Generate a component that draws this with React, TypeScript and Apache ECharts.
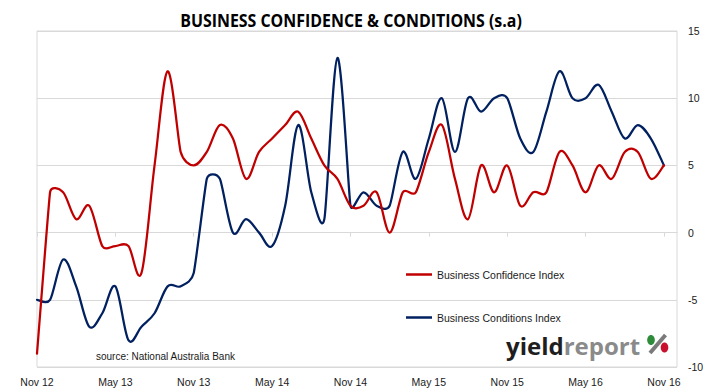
import React, { useEffect, useRef } from "react";
import * as echarts from "echarts";

const months = [
  "Nov 12", "Dec 12", "Jan 13", "Feb 13", "Mar 13", "Apr 13", "May 13", "Jun 13", "Jul 13", "Aug 13", "Sep 13", "Oct 13",
  "Nov 13", "Dec 13", "Jan 14", "Feb 14", "Mar 14", "Apr 14", "May 14", "Jun 14", "Jul 14", "Aug 14", "Sep 14", "Oct 14",
  "Nov 14", "Dec 14", "Jan 15", "Feb 15", "Mar 15", "Apr 15", "May 15", "Jun 15", "Jul 15", "Aug 15", "Sep 15", "Oct 15",
  "Nov 15", "Dec 15", "Jan 16", "Feb 16", "Mar 16", "Apr 16", "May 16", "Jun 16", "Jul 16", "Aug 16", "Sep 16", "Oct 16",
  "Nov 16", "Dec 16",
];

const confidence = [
  -9, 3, 3, 1, 2, -1, -1, -1, -3, 5, 12, 6,
  5, 6, 8, 7, 4, 6, 7, 8, 9, 7, 5, 4,
  2, 2, 3, 0, 3, 3, 6, 8, 4, 1, 5, 3,
  5, 2, 3, 3, 6, 5, 3, 5, 4, 6, 6, 4,
  5,
];

const conditions = [
  -5, -5, -2, -4, -7, -6, -4, -8, -7, -6, -4, -4,
  -3, 4, 4, 0, 1, 0, -1, 2, 8, 3, 1, 13,
  2, 3, 2, 2, 6, 4, 7, 10, 6, 10, 9, 10,
  10, 7, 6, 9, 12, 10, 10, 11, 9, 7, 8, 7,
  5,
];

const seriesNames = ["Business Confidence Index", "Business Conditions Index"];
const titleText = "BUSINESS CONFIDENCE & CONDITIONS (s.a)";
const sourceText = "source: National Australia Bank";

const RED = "#c00000";
const NAVY = "#002060";
const GRID = "#d9d9d9";
const FONT = "'Liberation Sans', Arial, sans-serif";

const dist = (a: number[], b: number[]) => Math.hypot(a[0] - b[0], a[1] - b[1]);

// Spreadsheet-style smoothed curve through the points placed by the axes
function makeRender(values: number[], color: string) {
  return (params: any, api: any) => {
    if (params.dataIndex !== 0) return null;
    const pts: number[][] = values.map((v, i) => api.coord([i, v]));
    const n = pts.length;
    // control offsets at each point
    const cin: number[][] = [];
    const cout: number[][] = [];
    for (let i = 0; i < n; i++) {
      const p0 = pts[i - 1] || pts[i];
      const p1 = pts[i];
      const p2 = pts[i + 1] || pts[i];
      const tx = p2[0] - p0[0];
      const ty = p2[1] - p0[1];
      const tl = Math.hypot(tx, ty) || 1;
      let len = tl / 6;
      const d01 = dist(p0, p1);
      const d12 = dist(p1, p2);
      if (i > 0) len = Math.min(len, d01 / 2);
      if (i < n - 1) len = Math.min(len, d12 / 2);
      const ux = (tx / tl) * len;
      const uy = (ty / tl) * len;
      cin.push([p1[0] - ux, p1[1] - uy]);
      cout.push([p1[0] + ux, p1[1] + uy]);
    }
    let d = `M${pts[0][0]},${pts[0][1]}`;
    for (let i = 0; i < n - 1; i++) {
      const a = cout[i];
      const b = cin[i + 1];
      const p = pts[i + 1];
      d += ` C${a[0]},${a[1]} ${b[0]},${b[1]} ${p[0]},${p[1]}`;
    }
    return {
      type: "path",
      shape: { pathData: d },
      style: { stroke: color, lineWidth: 2.25, fill: "none", lineJoin: "round", lineCap: "round" },
      silent: true,
    };
  };
}

export default function App() {
  const ref = useRef<HTMLDivElement>(null);
  useEffect(() => {
    if (!ref.current) return;
    const chart = echarts.init(ref.current, undefined, { renderer: "svg" });
    const legendBase = {
      left: 406,
      icon: "rect",
      itemWidth: 26,
      itemHeight: 2.5,
      padding: 0,
      textStyle: { fontSize: 10.5, fontFamily: FONT, color: "#1a1a1a" },
    };
    chart.setOption({
      animation: false,
      backgroundColor: "#ffffff",
      grid: {
        left: 37,
        right: 50,
        top: 31,
        bottom: 24,
        show: true,
        borderColor: GRID,
        borderWidth: 1,
      },
      xAxis: {
        type: "category",
        data: months,
        boundaryGap: false,
        axisLine: { show: true, lineStyle: { color: GRID, width: 1 } },
        axisTick: { show: true, interval: 5, length: 4, lineStyle: { color: GRID } },
        axisLabel: {
          interval: 5,
          margin: 9,
          color: "#1a1a1a",
          fontSize: 10.5,
          fontFamily: FONT,
        },
        splitLine: { show: false },
      },
      yAxis: {
        type: "value",
        position: "right",
        min: -10,
        max: 15,
        interval: 5,
        axisLine: { show: false },
        axisTick: { show: false },
        axisLabel: { margin: 11, color: "#1a1a1a", fontSize: 10.5, fontFamily: FONT },
        splitLine: { show: true, lineStyle: { color: GRID, width: 1 } },
      },
      legend: [
        { ...legendBase, data: [seriesNames[0]], top: 269 },
        { ...legendBase, data: [seriesNames[1]], top: 312 },
      ],
      series: [
        {
          name: seriesNames[1],
          type: "custom",
          data: conditions.map((v, i) => [i, v]),
          renderItem: makeRender(conditions, NAVY),
          itemStyle: { color: NAVY },
          encode: { x: 0, y: 1 },
          z: 2,
        },
        {
          name: seriesNames[0],
          type: "custom",
          data: confidence.map((v, i) => [i, v]),
          renderItem: makeRender(confidence, RED),
          itemStyle: { color: RED },
          encode: { x: 0, y: 1 },
          z: 3,
        },
      ],
      graphic: [
        {
          type: "text",
          x: 351,
          y: 20,
          scaleX: 0.885,
          style: {
            text: titleText,
            font: "bold 18px 'Open Sans', sans-serif",
            fill: "#000000",
            textAlign: "center",
            textVerticalAlign: "middle",
          },
        },
        {
          type: "text",
          x: 96,
          y: 356,
          style: {
            text: sourceText,
            font: "10px 'Liberation Sans', Arial, sans-serif",
            fill: "#1a1a1a",
            textAlign: "left",
            textVerticalAlign: "middle",
          },
        },
        {
          type: "text",
          x: 506,
          y: 345,
          style: {
            text: "{a|yield}{b|report}",
            textAlign: "left",
            textVerticalAlign: "middle",
            rich: {
              a: { font: "bold 24px 'Open Sans', sans-serif", fill: "#1e1e1e" },
              b: { font: "bold 24px 'Open Sans', sans-serif", fill: "#8a8a8a" },
            },
          },
        },
        {
          type: "line",
          shape: { x1: 650, y1: 353, x2: 665.5, y2: 335 },
          style: { stroke: "#7a7a7a", lineWidth: 4 },
        },
        {
          type: "ellipse",
          shape: { cx: 651, cy: 340, rx: 3.8, ry: 5 },
          style: { fill: "#2e8b3a" },
        },
        {
          type: "ellipse",
          shape: { cx: 664.5, cy: 347.5, rx: 3.8, ry: 5 },
          style: { fill: "#c8102e" },
        },
      ],
    });
    return () => chart.dispose();
  }, []);
  return (
    <div
      ref={ref}
      style={{ position: "absolute", left: 0, top: 0, width: 727, height: 391 }}
    />
  );
}
